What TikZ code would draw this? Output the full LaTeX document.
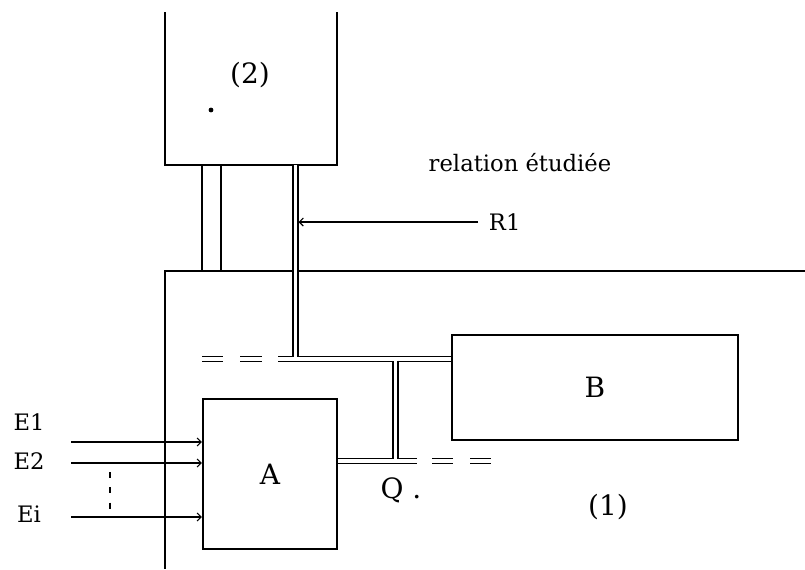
\documentclass[tikz,border=0pt]{standalone}
\usepackage{fontspec}
\setmainfont{DejaVu Serif}
\usepackage{tikz}
\usetikzlibrary{arrows.meta, positioning}

\begin{document}
\begin{tikzpicture}[x=0.75pt, y=-0.75pt,
    >={Straight Barb[length=3pt, width=6pt]},
    trait/.style={line width=1.7pt},
    boite/.style={draw, line width=1.7pt, inner sep=0pt},
    liaison/.style={double, double distance=2.4pt, line width=1.3pt},
    fleche/.style={->, line width=0.8pt},
    grand/.style={font=\fontsize{21}{21}\selectfont},
    petit/.style={font=\fontsize{17}{17}\selectfont}]

    \useasboundingbox (0,0) rectangle (805,569);

    % 1. Système (2)
    \draw[trait] (165,12) -- (165,165) coordinate (s2sw)
        -- (337,165) coordinate (s2se) -- (337,12);
    \node[grand] (s2) at (250,75) {(2)};
    \fill (211,110) circle (1.8pt);

    % 2. Système (1)
    \draw[trait] (805,271) -- (165,271) coordinate (s1nw) -- (165,569);
    \node[grand] (s1) at (608,507) {(1)};

    % 3. Les blocs A et B
    \node[boite, grand, minimum width=100.5pt, minimum height=112.5pt] (A) at (270,474) {A};
    \node[boite, grand, minimum width=214.5pt, minimum height=78.75pt] (B) at (595,387.5) {B};

    % 4. Liaisons entre (2) et (1)
    \foreach \x in {202,221} {
        \draw[trait] (\x,165) -- (\x,271);
    }
    \coordinate (j1) at (295.5,359);
    \coordinate (j2) at (395.5,359);
    \coordinate (j3) at (395.5,461);

    \draw[liaison] (278,359) -- (j1 -| B.west);
    \foreach \a/\b in {202/223, 240/262} {
        \draw[liaison] (\a,359) -- (\b,359);
    }
    \draw[liaison] (A.east |- j3) -- (417,461);
    \foreach \a/\b in {432/453, 470/491} {
        \draw[liaison] (\a,461) -- (\b,461);
    }
    \draw[liaison] (295.5,165) -- ([yshift=1.2pt]j1);
    \draw[liaison] ([yshift=-1.2pt]j2) -- ([yshift=1.2pt]j3);
    \node[grand] (Q) at (401,490) {Q .};

    % 5. Relation étudiée R1
    \node[petit] (rel) at (520,163) {relation étudiée};
    \node[petit, anchor=west, inner xsep=8pt] (R1) at (478,222) {R1};
    \draw[fleche] (R1.west) -- (298.5,222);

    % 6. Entrées E1 ... Ei
    \foreach \y/\t/\yt in {442/E1/422, 463/E2/461, 517/Ei/514} {
        \node[petit] (\t) at (29,\yt) {\t};
        \coordinate (d\t) at (71,\y);
        \draw[fleche] (d\t) -- (d\t -| A.west);
    }
    \draw[line width=1.2pt, dash pattern=on 4.5pt off 7pt] (110,472) -- (110,511);
\end{tikzpicture}
\end{document}
